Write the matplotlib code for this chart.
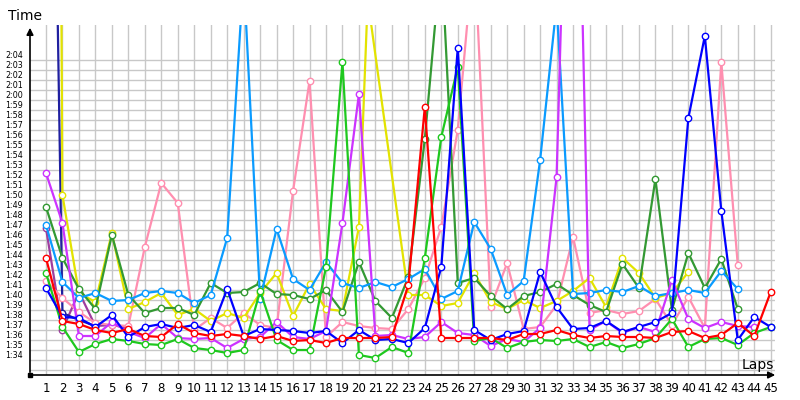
import numpy as np
import matplotlib.pyplot as plt

# lap times in seconds, one list per driver
laps = np.arange(1, 46)

red = [103.7, 97.4, 97.1, 96.5, 96.2, 96.6, 95.9, 95.8, 97.1, 96.2,
       95.9, 96.1, 95.9, 95.6, 95.9, 95.4, 95.5, 95.2, 95.7, 95.7,
       95.7, 95.8, 101.0, 118.8, 95.7, 95.7, 95.7, 95.7, 95.5, 96.1,
       96.1, 96.5, 96.0, 95.7, 95.9, 95.8, 95.8, 95.7, 96.3, 96.4,
       95.7, 96.0, 97.2, 95.9, 100.3]
green = [102.2, 96.8, 94.3, 95.1, 95.6, 95.4, 95.1, 95.0, 95.6, 94.7,
         94.5, 94.2, 94.5, 100.4, 95.5, 94.5, 94.5, 102.8, 123.3, 94.0,
         93.7, 94.8, 94.2, 103.7, 115.8, 122.8, 95.4, 95.7, 94.7, 95.3,
         95.5, 95.4, 95.6, 94.8, 95.3, 94.7, 95.1, 95.7, 97.6, 94.8,
         95.6, 95.7, 95.0, 96.2, 96.8]
blue = [100.7, 97.8, 97.7, 96.8, 98.0, 95.8, 96.8, 97.1, 96.7, 97.0,
        96.3, 100.6, 95.9, 96.6, 96.5, 96.4, 96.2, 96.4, 95.2, 96.5,
        95.5, 95.6, 95.2, 96.7, 102.8, 124.7, 96.5, 95.5, 96.1, 96.4,
        102.3, 98.8, 96.6, 96.7, 97.4, 96.3, 96.8, 97.3, 98.2, 117.7,
        125.9, 108.4, 95.5, 97.8, 96.8]
lightblue = [107.0, 101.3, 99.7, 100.2, 99.4, 99.5, 100.2, 100.4, 100.2, 99.2,
             100.0, 105.7, 132.0, 99.6, 106.6, 101.6, 100.5, 103.3, 101.2, 100.7,
             101.3, 100.8, 101.6, 102.6, 99.6, 100.4, 107.3, 104.6, 100.0, 101.4,
             113.5, 129.0, 100.1, 100.2, 100.5, 100.3, 100.9, 99.9, 100.2, 100.5,
             100.2, 102.4, 100.6]
darkgreen = [108.8, 103.7, 100.6, 98.6, 106.0, 100.0, 98.2, 98.7, 98.7, 98.0,
             101.2, 100.2, 100.3, 101.2, 100.1, 100.0, 99.6, 100.5, 98.3, 103.3,
             99.4, 97.7, 101.8, 115.6, 134.0, 101.2, 101.7, 99.9, 98.6, 99.9,
             100.3, 101.1, 100.0, 99.0, 98.3, 103.1, 100.7, 111.6, 98.5, 104.2,
             100.7, 103.6, 98.6]
yellow = [400.0, 110.0, 100.2, 99.3, 106.2, 98.6, 99.3, 100.2, 98.0, 98.6,
          97.4, 98.2, 97.7, 100.2, 102.2, 97.9, 101.1, 98.6, 98.4, 106.8,
          149.6, 129.6, 100.0, 100.0, 98.9, 99.2, 102.2, 99.3, 98.6, 99.5,
          98.7, 99.4, 100.4, 101.7, 98.8, 103.7, 102.2, 99.7, 100.2, 102.3]
pink = [101.4, 99.7, 98.3, 97.2, 97.0, 96.9, 104.8, 111.2, 109.2, 96.5,
        97.7, 96.7, 98.2, 97.0, 96.7, 110.4, 121.4, 95.8, 97.3, 96.9,
        96.7, 96.6, 98.6, 101.7, 106.8, 116.5, 135.0, 98.8, 103.2, 96.6,
        96.8, 99.0, 105.8, 98.2, 98.5, 98.1, 98.4, 99.6, 97.0, 99.8,
        96.7, 123.3, 103.0]
magenta = [112.2, 107.2, 95.9, 95.9, 97.3, 96.3, 95.7, 97.1, 95.7, 95.6,
           95.7, 94.7, 95.6, 95.8, 97.3, 95.8, 95.6, 96.4, 107.2, 120.1,
           95.9, 96.0, 95.6, 95.8, 97.3, 96.2, 96.0, 94.9, 95.6, 95.3,
           96.7, 111.8, 170.0, 96.5, 97.4, 96.2, 96.8, 96.3, 101.5, 97.6,
           96.7, 97.3, 96.9, 96.8]
purple = [106.7, 96.5, 100.3, 96.9, 97.0, 96.7]
navy = [200.0, 98.2, 97.5, 96.9]

series = [(purple, '#9e3d9e'), (navy, '#2020a0'), (pink, '#ff8fb0'),
          (yellow, '#e3e300'), (darkgreen, '#339933'), (lightblue, '#0a9bff'),
          (magenta, '#cc33ff'), (green, '#1ec81e'), (blue, '#0000ff'),
          (red, '#ff0000')]

fig = plt.figure(figsize=(8, 4), dpi=100)
ax = fig.add_axes([30/800, 25/400, 745/800, 350/400])

for vals, col in series:
    ax.plot(laps[:len(vals)], vals, '-o', color=col, lw=1.6, ms=4.6,
            mfc='white', mec=col, mew=1.0)

ax.set_xlim(0.03, 45.26)
ax.set_ylim(92, 127)

ax.set_xticks(laps)
ax.set_xticklabels([str(l) for l in laps], fontsize=8.5)
yt = np.arange(94, 125)
ax.set_yticks(yt)
ax.set_yticklabels(['{}:{:02d}'.format(s//60, s % 60) for s in yt], fontsize=5.8)
ax.set_yticks(np.arange(92.5, 124, 1), minor=True)
ax.tick_params(which='both', length=0)
ax.tick_params(axis='x', pad=5)
ax.tick_params(axis='y', pad=5)

ax.grid(axis='x', which='major', color='#c8c8c8', lw=1)
ax.grid(axis='y', which='minor', color='#c8c8c8', lw=1)
ax.set_axisbelow(True)

for s in ax.spines.values():
    s.set_visible(False)

# axes with arrows
ax.annotate('', xy=(0, 1.0), xytext=(0, 0), xycoords='axes fraction',
            arrowprops=dict(arrowstyle='-|>', color='black', lw=1.2, mutation_scale=10))
ax.annotate('', xy=(1.004, 0), xytext=(0, 0), xycoords='axes fraction',
            arrowprops=dict(arrowstyle='-|>', color='black', lw=1.2, mutation_scale=10))
ax.plot(0, 0, 's', color='black', ms=3, transform=ax.transAxes, clip_on=False)

fig.text(25/800, 1 - 16/400, 'Time', fontsize=10, ha='center', va='center')
fig.text(758/800, 1 - 365/400, 'Laps', fontsize=10, ha='center', va='center')

plt.savefig('out.png', dpi=100)
